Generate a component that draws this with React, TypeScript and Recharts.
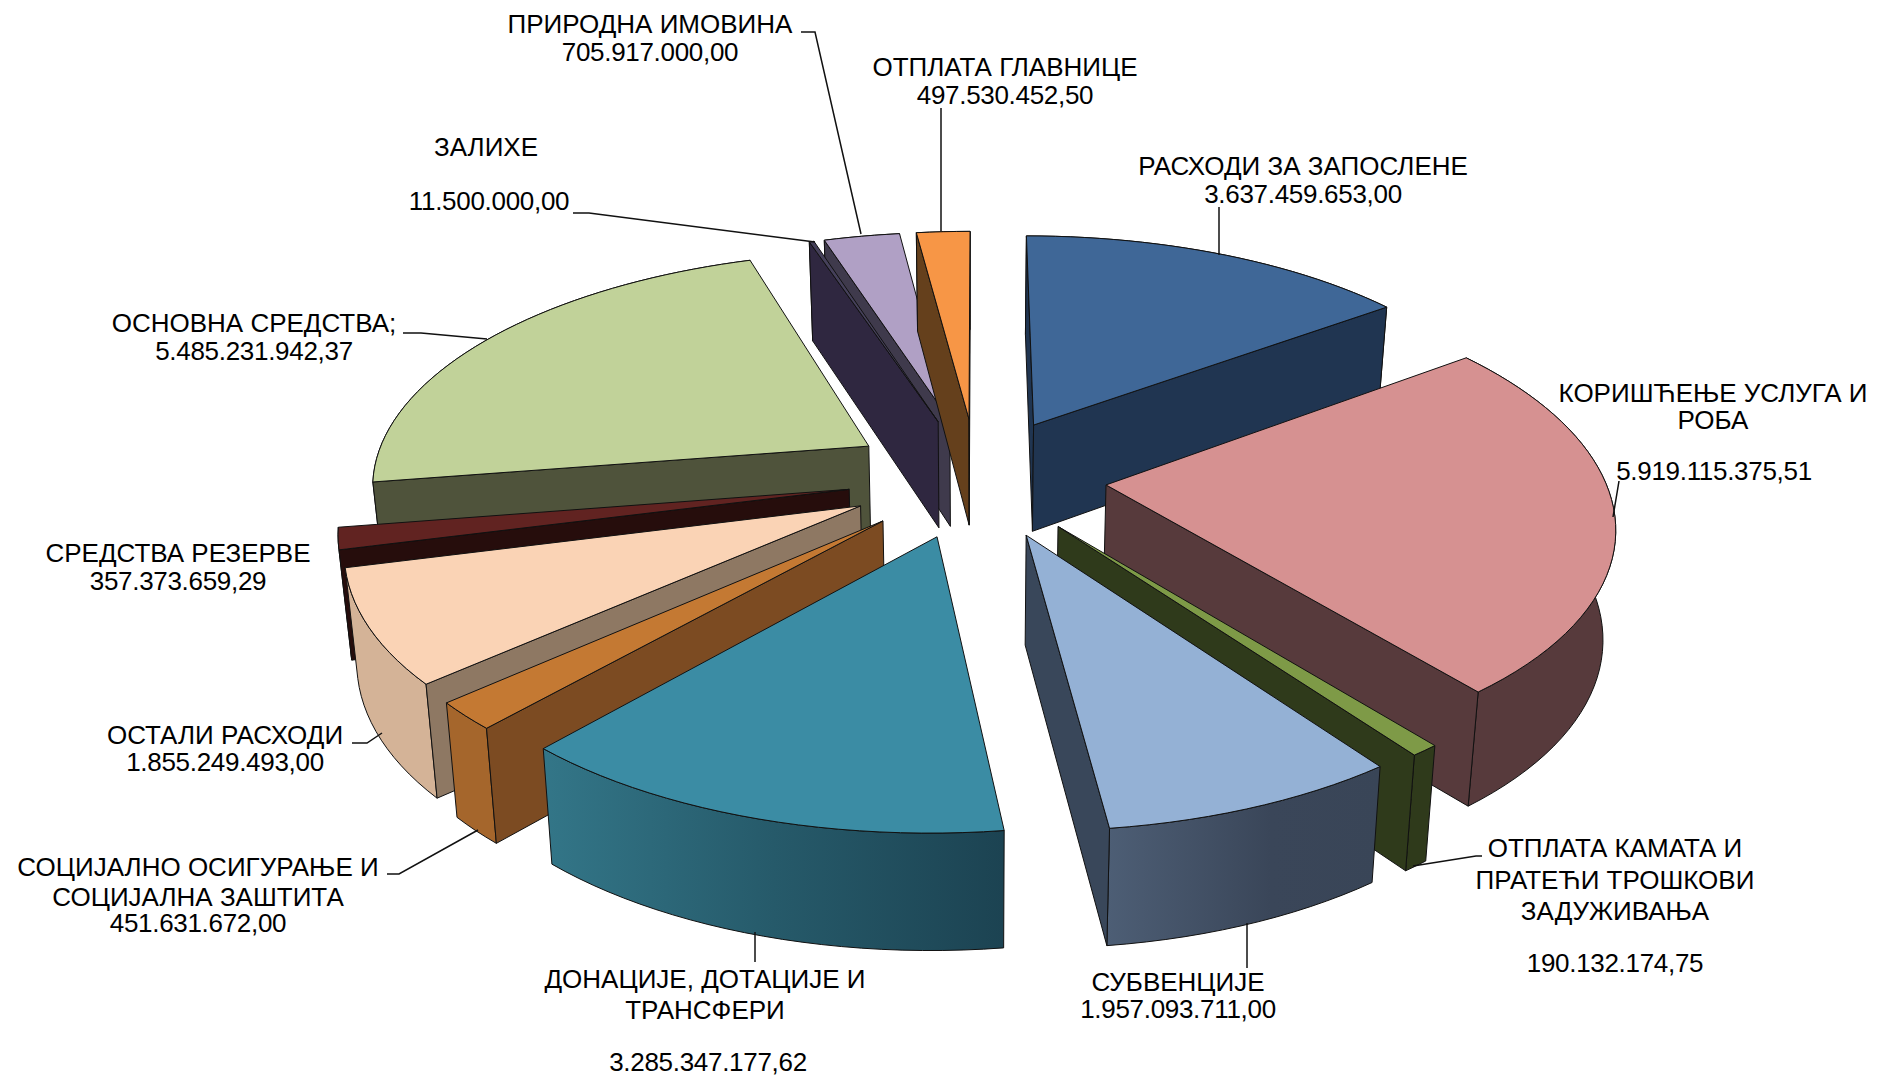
import React from "react";
import { PieChart, Pie } from "recharts";

const categories = [
  "РАСХОДИ ЗА ЗАПОСЛЕНЕ",
  "КОРИШЋЕЊЕ УСЛУГА И РОБА",
  "ОТПЛАТА КАМАТА И ПРАТЕЋИ ТРОШКОВИ ЗАДУЖИВАЊА",
  "СУБВЕНЦИЈЕ",
  "ДОНАЦИЈЕ, ДОТАЦИЈЕ И ТРАНСФЕРИ",
  "СОЦИЈАЛНО ОСИГУРАЊЕ И СОЦИЈАЛНА ЗАШТИТА",
  "ОСТАЛИ РАСХОДИ",
  "СРЕДСТВА РЕЗЕРВЕ",
  "ОСНОВНА СРЕДСТВА",
  "ЗАЛИХЕ",
  "ПРИРОДНА ИМОВИНА",
  "ОТПЛАТА ГЛАВНИЦЕ",
];
const values = [
  3637459653.0, 5919115375.51, 190132174.75, 1957093711.0, 3285347177.62, 451631672.0,
  1855249493.0, 357373659.29, 5485231942.37, 11500000.0, 705917000.0, 497530452.5,
];
const topColors = ["#3f6797", "#d69191", "#7e9a47", "#94b1d5", "#3b8ca4", "#c47933", "#fad3b5", "#612321", "#c1d299", "#45405a", "#b0a0c5", "#f79646"];
const wallColors = ["#203551", "#573a3c", "#2f3a1b", "#39475a", "#23505f", "#7c4b22", "#8e7863", "#260d0c", "#4f533b", "#2f2740", "#3f3a4c", "#65401c"];
const arcColors = ["#203551", "#573a3c", "#2f3a1b", "url(#arcSub)", "url(#arcDon)", "#a5662c", "#d4b397", "#260d0c", "#4f533b", "#2f2740", "#3f3a4c", "#65401c"];
const paintOrder = [10, 9, 11, 0, 1, 2, 3, 8, 7, 6, 5, 4];

const labelLines = [
  ["РАСХОДИ ЗА ЗАПОСЛЕНЕ", "3.637.459.653,00"],
  ["КОРИШЋЕЊЕ УСЛУГА И", "РОБА", "5.919.115.375,51"],
  ["ОТПЛАТА КАМАТА И", "ПРАТЕЋИ ТРОШКОВИ", "ЗАДУЖИВАЊА", "190.132.174,75"],
  ["СУБВЕНЦИЈЕ", "1.957.093.711,00"],
  ["ДОНАЦИЈЕ, ДОТАЦИЈЕ И", "ТРАНСФЕРИ", "3.285.347.177,62"],
  ["СОЦИЈАЛНО ОСИГУРАЊЕ И", "СОЦИЈАЛНА ЗАШТИТА", "451.631.672,00"],
  ["ОСТАЛИ РАСХОДИ", "1.855.249.493,00"],
  ["СРЕДСТВА РЕЗЕРВЕ", "357.373.659,29"],
  ["ОСНОВНА СРЕДСТВА;", "5.485.231.942,37"],
  ["ЗАЛИХЕ", "11.500.000,00"],
  ["ПРИРОДНА ИМОВИНА", "705.917.000,00"],
  ["ОТПЛАТА ГЛАВНИЦЕ", "497.530.452,50"],
];
// label placement in page pixels
const labelX = [
  [1303, 1303], [1713, 1713, 1714], [1615, 1615, 1615, 1615], [1178, 1178], [705, 705, 708],
  [198, 198, 198], [225, 225], [178, 178], [254, 254], [486, 489], [650, 650], [1005, 1005],
];
const labelY = [
  [166, 194], [393, 420, 471], [848, 880, 911, 963], [982, 1009], [979, 1010, 1062],
  [867, 897, 923], [735, 762], [553, 581], [323, 351], [147, 201], [24, 52], [67, 95],
];
const leaders = [
  [[1219, 207], [1219, 255]],
  [[1619, 481], [1613, 517]],
  [[1413, 866], [1476, 856], [1482, 856]],
  [[1247, 923], [1247, 968]],
  [[755, 932], [755, 962]],
  [[387, 874], [399, 874], [478, 830]],
  [[352, 743], [367, 743], [382, 733]],
  [],
  [[403, 333], [421, 333], [487, 339]],
  [[573, 213], [589, 213], [815, 242]],
  [[801, 32], [815, 32], [861, 234]],
  [[941, 108], [941, 231]],
];

const EXPLODE = 0.26;
const PERSPECTIVE = 0.15;
const SQUASH = 0.4656;
const DEPTH = 108;
const MIN_DRAWN_DEGREES = 0.65;
const rad = (d: number) => (d * Math.PI) / 180;

function project(cx: number, cy: number, r: number, u: number, v: number, low: boolean) {
  const w = 1 + PERSPECTIVE * v;
  let x = cx + (r * u) / w;
  let y = cy - (r * SQUASH * v) / w;
  if (low) {
    x = cx + (x - cx) * 0.98;
    y += DEPTH * (1 - 0.07 * v);
  }
  return [x, y];
}
const toPath = (pts: number[][], close = true) =>
  pts.map((p, i) => `${i ? "L" : "M"}${p[0].toFixed(2)} ${p[1].toFixed(2)}`).join(" ") + (close ? " Z" : "");
const cross = (a: number[], b: number[], c: number[]) =>
  (b[0] - a[0]) * (c[1] - a[1]) - (b[1] - a[1]) * (c[0] - a[0]);

function Slice3D(props: any) {
  const { cx, cy, outerRadius, startAngle, endAngle, index } = props;
  const t2 = 90 - endAngle;
  const t1 = Math.min(90 - startAngle, t2 - MIN_DRAWN_DEGREES);
  const mid = rad((t1 + t2) / 2);
  const ou = EXPLODE * Math.sin(mid);
  const ov = EXPLODE * Math.cos(mid);
  const pt = (t: number, low: boolean) =>
    project(cx, cy, outerRadius, ou + Math.sin(rad(t)), ov + Math.cos(rad(t)), low);
  const apex = project(cx, cy, outerRadius, ou, ov, false);
  const apexLow = project(cx, cy, outerRadius, ou, ov, true);
  const n = Math.max(2, Math.ceil((t2 - t1) / 2));
  const top: number[][] = [];
  const bottom: number[][] = [];
  for (let i = 0; i <= n; i++) {
    const t = t1 + ((t2 - t1) * i) / n;
    top.push(pt(t, false));
    bottom.push(pt(t, true));
  }
  const inner = pt((t1 + t2) / 2, false);
  const walls = [
    [top[0], bottom[0]],
    [top[n], bottom[n]],
  ].filter(([b, bl]) => {
    const side = cross(apex, b, inner);
    const lo = cross(apex, b, apexLow) + cross(apex, b, bl);
    return side * lo < 0;
  });
  const common = { stroke: "#111", strokeWidth: 1, strokeLinejoin: "round" as const };
  return (
    <g>
      <path d={toPath([...top, ...bottom.slice().reverse()])} fill={arcColors[index]} {...common} />
      {walls.map(([b, bl], i) => (
        <path key={i} d={toPath([apex, b, bl, apexLow])} fill={wallColors[index]} {...common} />
      ))}
      <path d={toPath([apex, ...top])} fill={topColors[index]} {...common} />
    </g>
  );
}
const Nothing = () => <g />;

const tableData = categories.map((name, i) => ({ name, value: values[i] }));

function renderLabel(props: any) {
  const i = props.index;
  return (
    <g key={i}>
      {leaders[i].length > 0 && (
        <path d={toPath(leaders[i], false)} fill="none" stroke="#111" strokeWidth={1.5} />
      )}
      {labelLines[i].map((t, k) => (
        <text
          key={k}
          x={labelX[i][k]}
          y={labelY[i][k]}
          textAnchor="middle"
          dominantBaseline="central"
          fontFamily="'Liberation Sans', Arial, sans-serif"
          fontSize={26}
          letterSpacing={/^[0-9]/.test(t) ? -0.3 : 0}
          fill="#000"
        >
          {t}
        </text>
      ))}
    </g>
  );
}

const common = {
  data: tableData,
  dataKey: "value",
  nameKey: "name",
  cx: 977,
  cy: 477,
  outerRadius: 498,
  startAngle: 90,
  endAngle: -270,
  isAnimationActive: false,
  legendType: "none" as const,
};

export default function App() {
  return (
    <div style={{ position: "absolute", left: 0, top: 0, width: 1885, height: 1076, background: "#fff" }}>
      <PieChart width={1885} height={1076} margin={{ top: 0, right: 0, bottom: 0, left: 0 }}>
        <defs>
          <linearGradient id="arcSub" x1="0" y1="0" x2="1" y2="0">
            <stop offset="0" stopColor="#4d5e75" />
            <stop offset="0.6" stopColor="#3a4659" />
            <stop offset="1" stopColor="#394557" />
          </linearGradient>
          <linearGradient id="arcDon" x1="0" y1="0" x2="1" y2="0">
            <stop offset="0" stopColor="#337688" />
            <stop offset="0.5" stopColor="#265a6a" />
            <stop offset="1" stopColor="#1c4352" />
          </linearGradient>
        </defs>
        {paintOrder.map((idx) => (
          <Pie
            key={idx}
            {...common}
            shape={(p: any) => (p.index === idx ? <Slice3D {...p} /> : <Nothing />)}
            label={false}
            labelLine={false}
          />
        ))}
        <Pie {...common} shape={() => <Nothing />} label={renderLabel} labelLine={false} />
      </PieChart>
    </div>
  );
}
